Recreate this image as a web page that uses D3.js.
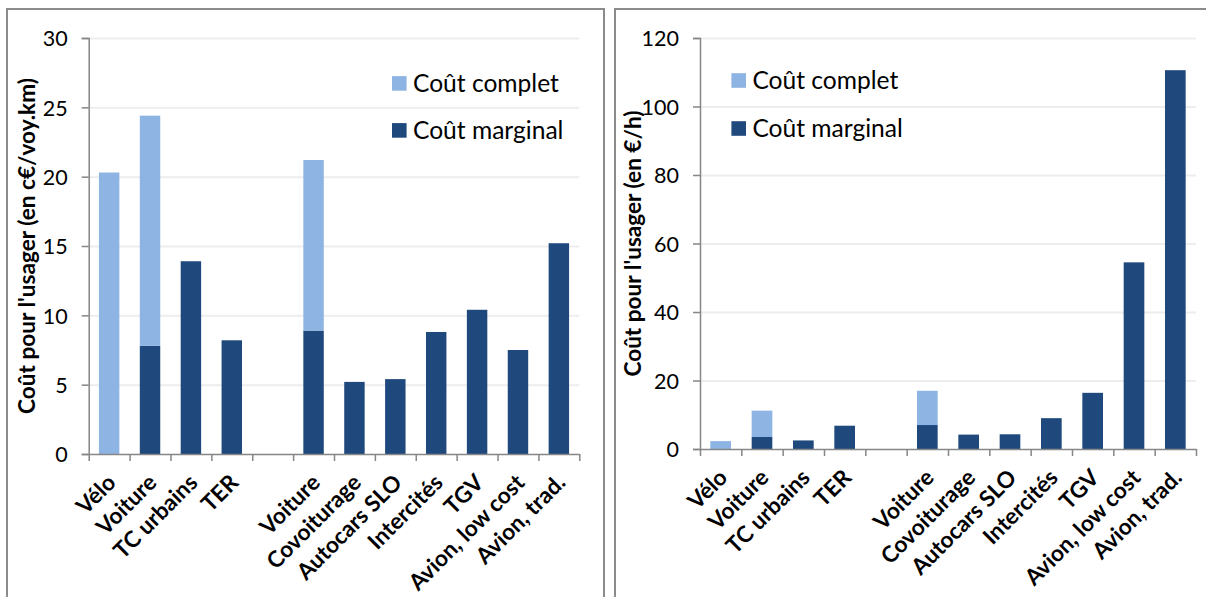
<!DOCTYPE html>
<html><head><meta charset="utf-8">
<script src="https://cdn.jsdelivr.net/npm/d3@7"></script>
<style>body{margin:0;background:#fff}svg{display:block}</style>
</head><body>
<svg id="c" width="1206" height="597"></svg>
<script>
// ---- data ----
const categories = ["Vélo","Voiture","TC urbains","TER","","Voiture","Covoiturage","Autocars SLO","Intercités","TGV","Avion, low cost","Avion, trad."];
const marginalKm = [0, 7.8, 13.9, 8.2, null, 8.9, 5.2, 5.4, 8.8, 10.4, 7.5, 15.2];
const completKm  = [20.3, 24.4, 13.9, 8.2, null, 21.2, 5.2, 5.4, 8.8, 10.4, 7.5, 15.2];
const marginalH  = [0, 3.5, 2.5, 6.8, null, 7.0, 4.2, 4.3, 9.0, 16.4, 54.5, 110.6];
const completH   = [2.3, 11.2, 2.5, 6.8, null, 17.0, 4.2, 4.3, 9.0, 16.4, 54.5, 110.6];
const ticksKm = [0, 5, 10, 15, 20, 25, 30];
const ticksH  = [0, 20, 40, 60, 80, 100, 120];
const seriesNames = ["Coût complet", "Coût marginal"];
const titleKm = "Coût pour l'usager (en c€/voy.km)";
const titleH  = "Coût pour l'usager (en €/h)";

// ---- styles ----
const C_LIGHT = "#8EB4E3", C_DARK = "#1F497D";
const FONT = "Lato, 'Open Sans', sans-serif";
const svg = d3.select("#c");

function fit(sel, target){
  const w = sel.node().getComputedTextLength();
  return parseFloat(sel.attr("font-size")) * target / w;
}
const probe = svg.append("text").attr("font-family", FONT).attr("font-weight","bold").attr("font-size",20).text(titleKm);
const titleFs = fit(probe, 336);
probe.attr("font-weight","normal").text(seriesNames[0]);
const legendFs = fit(probe, 146);
probe.remove();

function panel(cfg){
  const g = svg.append("g");
  g.append("rect").attr("x", cfg.box[0]).attr("y", cfg.box[1]).attr("width", cfg.box[2]).attr("height", cfg.box[3])
    .attr("fill","#fff").attr("stroke","#8c8c8c").attr("stroke-width",2);

  const y = d3.scaleLinear().domain([0, cfg.yMax]).range([cfg.y0, cfg.y1]);
  const xb = d3.scaleBand().domain(d3.range(categories.length)).range([cfg.x0, cfg.x1]).paddingInner(0.5).paddingOuter(0.25);
  const xl = d3.scaleLinear().domain([0, categories.length]).range([cfg.x0, cfg.x1]);

  const grid = g.append("g").attr("transform", `translate(${cfg.x0},0)`)
    .call(d3.axisLeft(y).tickValues(cfg.ticks.filter(t=>t>0)).tickSize(-(cfg.x1-cfg.x0)).tickFormat(""));
  grid.select(".domain").remove();
  grid.selectAll("line").attr("stroke","#ededed").attr("stroke-width",2);

  const idx = d3.range(categories.length).filter(i => cfg.comp[i] != null);
  g.selectAll(".m").data(idx).join("rect")
    .attr("x", i=>xb(i)).attr("width", xb.bandwidth())
    .attr("y", i=>y(cfg.marg[i])).attr("height", i=>y(0)-y(cfg.marg[i]))
    .attr("fill", C_DARK);
  g.selectAll(".c").data(idx.filter(i=>cfg.comp[i] > cfg.marg[i])).join("rect")
    .attr("x", i=>xb(i)).attr("width", xb.bandwidth())
    .attr("y", i=>y(cfg.comp[i])).attr("height", i=>y(cfg.marg[i])-y(cfg.comp[i]))
    .attr("fill", C_LIGHT);

  const ya = g.append("g").attr("transform", `translate(${cfg.x0},0)`)
    .call(d3.axisLeft(y).tickValues(cfg.ticks).tickSize(7).tickPadding(14));
  ya.selectAll("line,path").attr("stroke","#868686").attr("stroke-width",1.5);
  ya.selectAll("text").attr("font-family",FONT).attr("font-size",21.5).attr("fill","#000").attr("dy","0.36em");

  const xa = g.append("g").attr("transform", `translate(0,${cfg.y0})`)
    .call(d3.axisBottom(xl).tickValues(d3.range(categories.length+1)).tickSize(7).tickFormat("").tickSizeOuter(0));
  xa.selectAll("line,path").attr("stroke","#868686").attr("stroke-width",1.5);

  g.selectAll(".xl").data(d3.range(categories.length)).join("text")
    .attr("transform", i=>`translate(${xb(i)+xb.bandwidth()/2+cfg.ldx},${cfg.y0+cfg.ldy}) rotate(-45)`)
    .attr("text-anchor","end").attr("font-family",FONT).attr("font-weight","bold")
    .attr("font-size", titleFs).text(i=>categories[i]);

  g.append("text").attr("transform", `translate(${cfg.tx + titleFs*0.34},${(cfg.y0+cfg.y1)/2}) rotate(-90)`)
    .attr("text-anchor","middle").attr("font-family",FONT).attr("font-weight","bold")
    .attr("font-size", titleFs).text(cfg.title);

  const colors = [C_LIGHT, C_DARK];
  seriesNames.forEach((s,k)=>{
    const cy = cfg.leg[1] + k*cfg.leg[2];
    g.append("rect").attr("x", cfg.leg[0]).attr("y", cy-7.3).attr("width",14.6).attr("height",14.6).attr("fill",colors[k]);
    g.append("text").attr("x", cfg.leg[0]+21).attr("y", cy + legendFs*0.36)
      .attr("font-family",FONT).attr("font-size",legendFs).text(s);
  });
}

panel({box:[7,9,597,600], x0:88.7, x1:579.3, y0:454, y1:38, yMax:30, ticks:ticksKm,
  marg:marginalKm, comp:completKm, title:titleKm, tx:27, leg:[392,83.4,47], ldx:8, ldy:30});
panel({box:[615,9,600,600], x0:700, x1:1196, y0:449, y1:38, yMax:120, ticks:ticksH,
  marg:marginalH, comp:completH, title:titleH, tx:633, leg:[731.4,80.5,48], ldx:8, ldy:30});
</script>
</body></html>
